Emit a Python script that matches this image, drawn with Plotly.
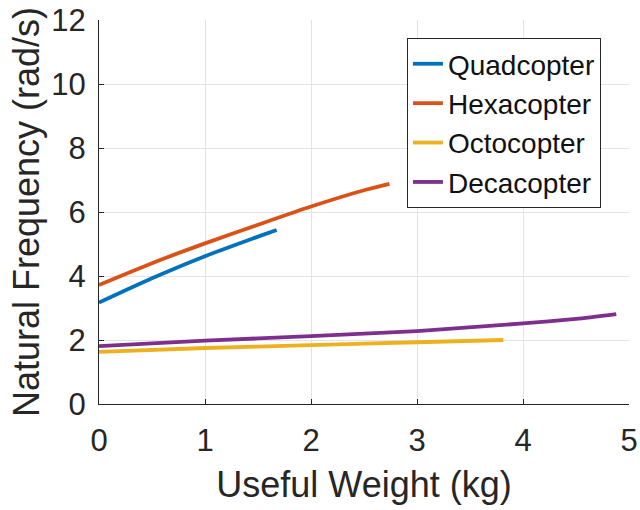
import plotly.graph_objects as go

quad_x = [0, 0.5, 1.0, 1.5, 1.676]
quad_y = [3.17, 3.93, 4.62, 5.23, 5.44]
hexa_x = [0, 0.5, 1.0, 1.5, 2.0, 2.5, 2.74]
hexa_y = [3.72, 4.40, 5.02, 5.60, 6.17, 6.68, 6.88]
octo_x = [0, 1.0, 2.0, 3.0, 3.815]
octo_y = [1.63, 1.75, 1.84, 1.93, 2.00]
deca_x = [0, 1.0, 2.0, 3.0, 4.0, 4.5, 4.88]
deca_y = [1.81, 1.98, 2.12, 2.28, 2.52, 2.66, 2.81]

names = ["Quadcopter", "Hexacopter", "Octocopter", "Decacopter"]
colors = ["#0072BD", "#D95319", "#EDB120", "#7E2F8E"]
series = [(quad_x, quad_y), (hexa_x, hexa_y), (octo_x, octo_y), (deca_x, deca_y)]

fig = go.Figure()
for (xs, ys), n, c in zip(series, names, colors):
    fig.add_trace(go.Scatter(x=xs, y=ys, name=n, mode="lines",
                             line=dict(color=c, width=3.8, shape="spline", smoothing=0.6)))

font = "Liberation Sans, Arial, sans-serif"
axis_common = dict(
    showgrid=True, gridcolor="#e3e3e3", gridwidth=1,
    showline=True, linecolor="#262626", linewidth=1.2,
    ticks="inside", ticklen=5, tickcolor="#262626",
    zeroline=False, mirror=False, automargin=False,
    tickfont=dict(family=font, size=31, color="#262626"),
)
fig.update_layout(
    width=640, height=510,
    margin=dict(l=99, r=11, t=20, b=106),
    paper_bgcolor="white", plot_bgcolor="white",
    font=dict(family=font, color="#262626"),
    xaxis=dict(range=[0, 5], tickvals=[0, 1, 2, 3, 4, 5], ticklabelstandoff=9,
               title=dict(text="Useful Weight (kg)", font=dict(family=font, size=36, color="#262626"), standoff=14),
               **axis_common),
    yaxis=dict(range=[0, 12], tickvals=[0, 2, 4, 6, 8, 10, 12], ticklabelstandoff=6,
               title=dict(text="Natural Frequency (rad/s)", font=dict(family=font, size=36, color="#262626"), standoff=0),
               **axis_common),
    legend=dict(x=0.581, y=0.953, xanchor="left", yanchor="top",
                bordercolor="#262626", borderwidth=1, bgcolor="white",
                font=dict(family=font, size=28, color="#111111"),
                itemwidth=30, tracegroupgap=0),
    showlegend=True,
)
fig.write_html("out.html", config={"displayModeBar": False},
               post_script="document.body.style.margin='0';document.body.style.padding='0';")
